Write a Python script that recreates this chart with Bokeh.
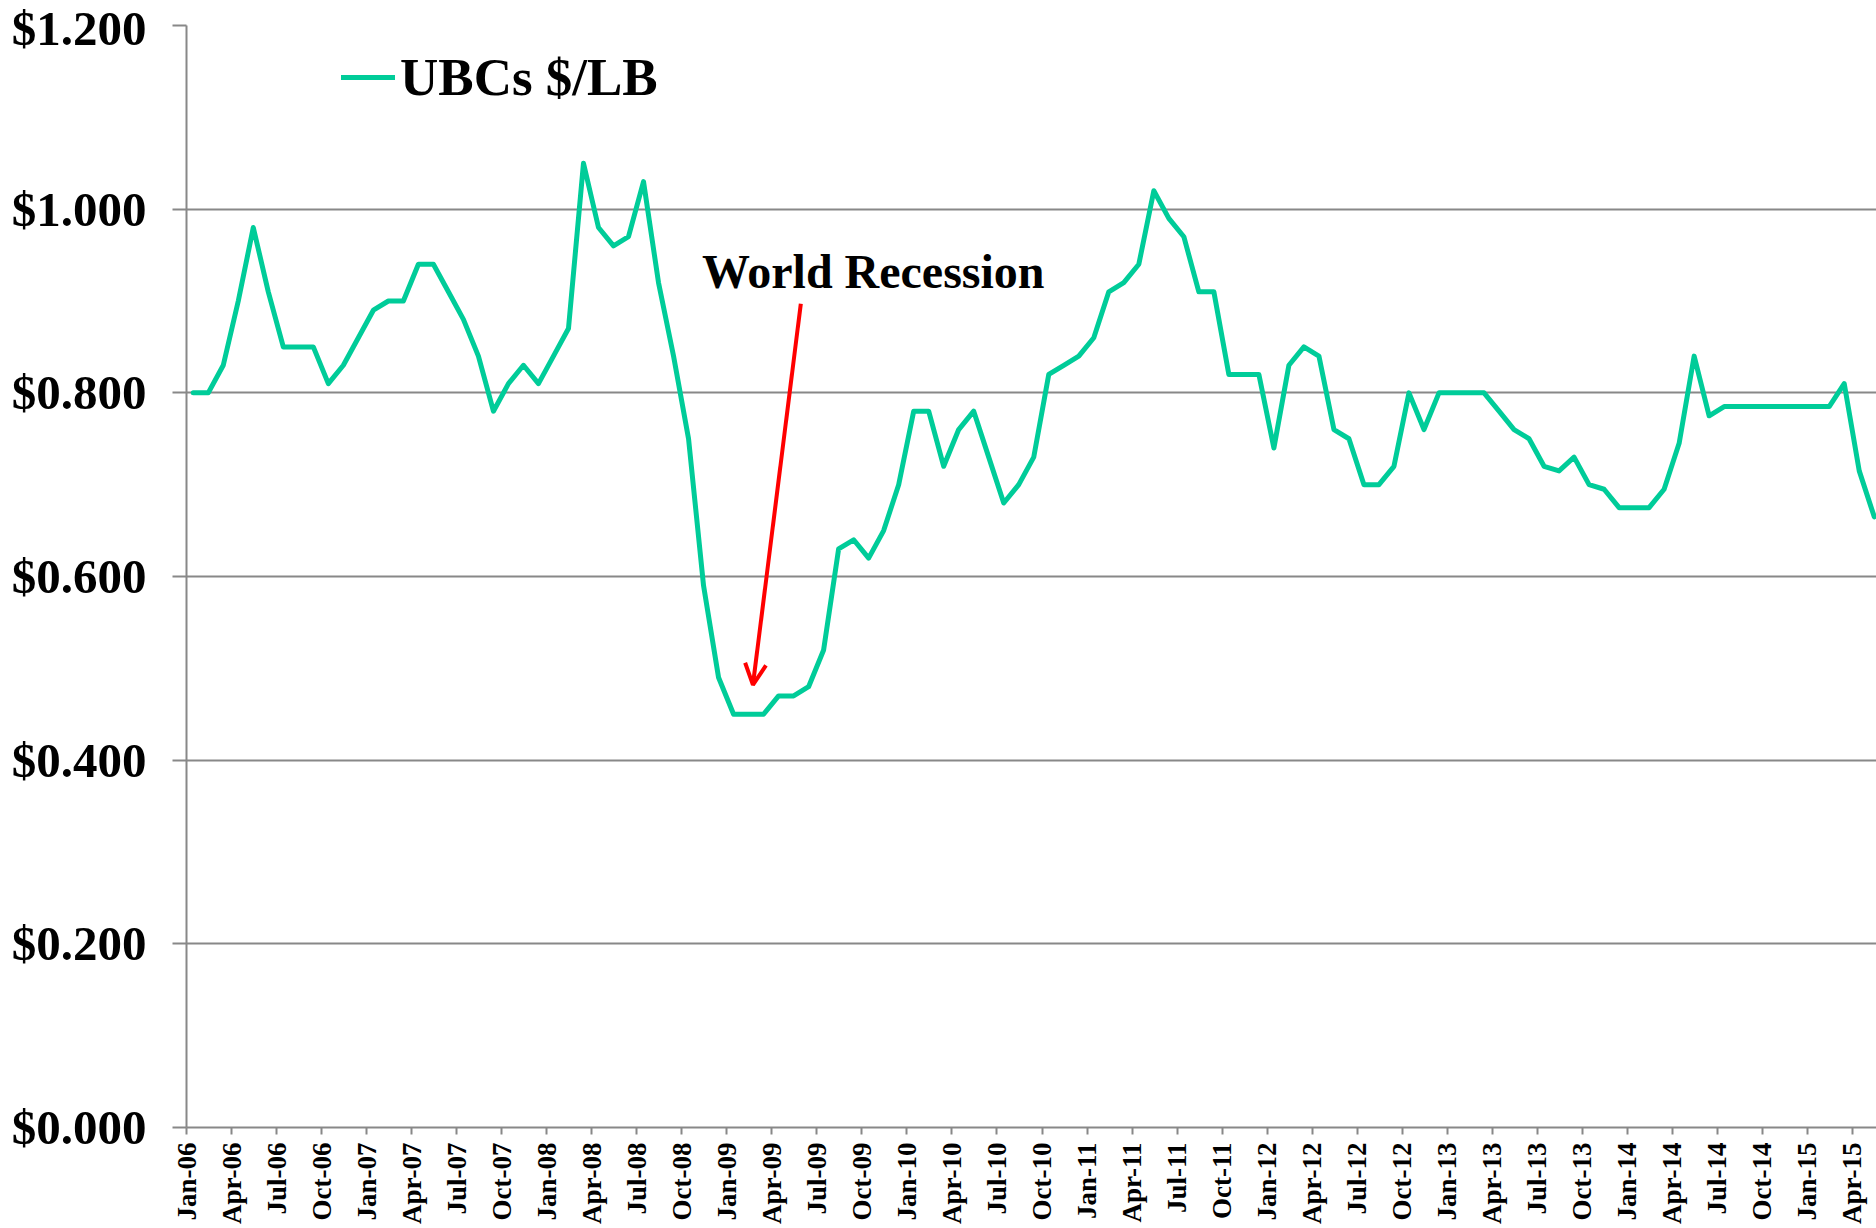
from bokeh.plotting import figure
from bokeh.models import (Range1d, FixedTicker, NumeralTickFormatter, Label,
                          Arrow, OpenHead, Legend, LegendItem, ColumnDataSource)
from bokeh.embed import file_html
from bokeh.resources import INLINE
import math

# ---------------- data ----------------
start_year = 2006
month_names = ["Jan", "Feb", "Mar", "Apr", "May", "Jun",
               "Jul", "Aug", "Sep", "Oct", "Nov", "Dec"]

ubc_price = [
    0.80, 0.80, 0.83, 0.90, 0.98, 0.91, 0.85, 0.85, 0.85, 0.81, 0.83, 0.86,   # 2006
    0.89, 0.90, 0.90, 0.94, 0.94, 0.91, 0.88, 0.84, 0.78, 0.81, 0.83, 0.81,   # 2007
    0.84, 0.87, 1.05, 0.98, 0.96, 0.97, 1.03, 0.92, 0.84, 0.75, 0.59, 0.49,   # 2008
    0.45, 0.45, 0.45, 0.47, 0.47, 0.48, 0.52, 0.63, 0.64, 0.62, 0.65, 0.70,   # 2009
    0.78, 0.78, 0.72, 0.76, 0.78, 0.73, 0.68, 0.70, 0.73, 0.82, 0.83, 0.84,   # 2010
    0.86, 0.91, 0.92, 0.94, 1.02, 0.99, 0.97, 0.91, 0.91, 0.82, 0.82, 0.82,   # 2011
    0.74, 0.83, 0.85, 0.84, 0.76, 0.75, 0.70, 0.70, 0.72, 0.80, 0.76, 0.80,   # 2012
    0.80, 0.80, 0.80, 0.78, 0.76, 0.75, 0.72, 0.715, 0.73, 0.70, 0.695, 0.675,  # 2013
    0.675, 0.675, 0.695, 0.745, 0.84, 0.775, 0.785, 0.785, 0.785, 0.785, 0.785, 0.785,  # 2014
    0.785, 0.785, 0.81, 0.715, 0.665,                                          # 2015
]

month_labels = ["%s-%02d" % (month_names[i % 12], (start_year + i // 12) % 100)
                for i in range(len(ubc_price))]
tick_months = list(range(0, len(ubc_price), 3))

y_ticks = [0.0, 0.2, 0.4, 0.6, 0.8, 1.0, 1.2]
series_name = "UBCs $/LB"
annotation_text = "World Recession"
# annotation anchors (data units: month index, $/lb)
annot_text_pos = (34.34, 0.9325)
arrow_from = (40.93, 0.897)
arrow_to = (37.74, 0.482)

# ---------------- figure ----------------
FONT = "Liberation Serif"
GRID = "#888888"
GREEN = "#00CC99"

p = figure(width=1876, height=1228, output_backend="svg", toolbar_location=None,
           x_range=Range1d(0, 112.6), y_range=Range1d(0, 1.2),
           min_border_left=186, min_border_right=0, min_border_top=25,
           min_border_bottom=101)
p.outline_line_color = None
p.background_fill_color = "white"
p.border_fill_color = "white"

xs = [i + 0.45 for i in range(len(ubc_price))]
src = ColumnDataSource(dict(x=xs, y=ubc_price))
r = p.line("x", "y", source=src, line_color=GREEN, line_width=5,
           line_join="round", line_cap="round")

# axes
p.xgrid.grid_line_color = None
p.ygrid.grid_line_color = GRID
p.ygrid.grid_line_width = 2
p.ygrid.ticker = FixedTicker(ticks=y_ticks)

p.yaxis.ticker = FixedTicker(ticks=y_ticks)
p.yaxis.formatter = NumeralTickFormatter(format="$0.000")
p.yaxis.major_label_text_font = FONT
p.yaxis.major_label_text_font_style = "bold"
p.yaxis.major_label_text_font_size = "49px"
p.yaxis.major_label_text_color = "black"
p.yaxis.axis_line_color = GRID
p.yaxis.axis_line_width = 2
p.yaxis.major_tick_line_color = GRID
p.yaxis.major_tick_line_width = 2
p.yaxis.major_tick_in = 0
p.yaxis.major_tick_out = 14
p.yaxis.minor_tick_line_color = None
p.yaxis.major_label_standoff = 26

p.xaxis.ticker = FixedTicker(ticks=tick_months)
p.xaxis.major_label_overrides = {m: month_labels[m] for m in tick_months}
p.xaxis.major_label_orientation = math.pi / 2
p.xaxis.major_label_text_font = FONT
p.xaxis.major_label_text_font_style = "bold"
p.xaxis.major_label_text_font_size = "27px"
p.xaxis.major_label_text_color = "black"
p.xaxis.axis_line_color = GRID
p.xaxis.axis_line_width = 2
p.xaxis.major_tick_line_color = GRID
p.xaxis.major_tick_line_width = 2
p.xaxis.major_tick_in = 0
p.xaxis.major_tick_out = 7
p.xaxis.minor_tick_line_color = None
p.xaxis.major_label_standoff = 8

# legend
legend = Legend(items=[LegendItem(label=series_name, renderers=[r])],
                location=(155, 1020), orientation="vertical",
                label_text_font=FONT, label_text_font_style="bold",
                label_text_font_size="53px", label_text_color="black",
                glyph_width=54, glyph_height=56, label_height=56,
                label_standoff=5, padding=0, margin=0, spacing=0,
                border_line_color=None, background_fill_alpha=0)
p.add_layout(legend, "center")

# annotation
p.add_layout(Label(x=annot_text_pos[0], y=annot_text_pos[1], text=annotation_text,
                   text_font=FONT, text_font_style="bold", text_font_size="48px",
                   text_color="black", text_baseline="alphabetic", text_align="left"))
p.add_layout(Arrow(x_start=arrow_from[0], y_start=arrow_from[1],
                   x_end=arrow_to[0], y_end=arrow_to[1],
                   line_color="#FF0000", line_width=4,
                   end=OpenHead(line_color="#FF0000", line_width=4, size=21)))

open("out.html", "w").write(file_html(p, INLINE))
